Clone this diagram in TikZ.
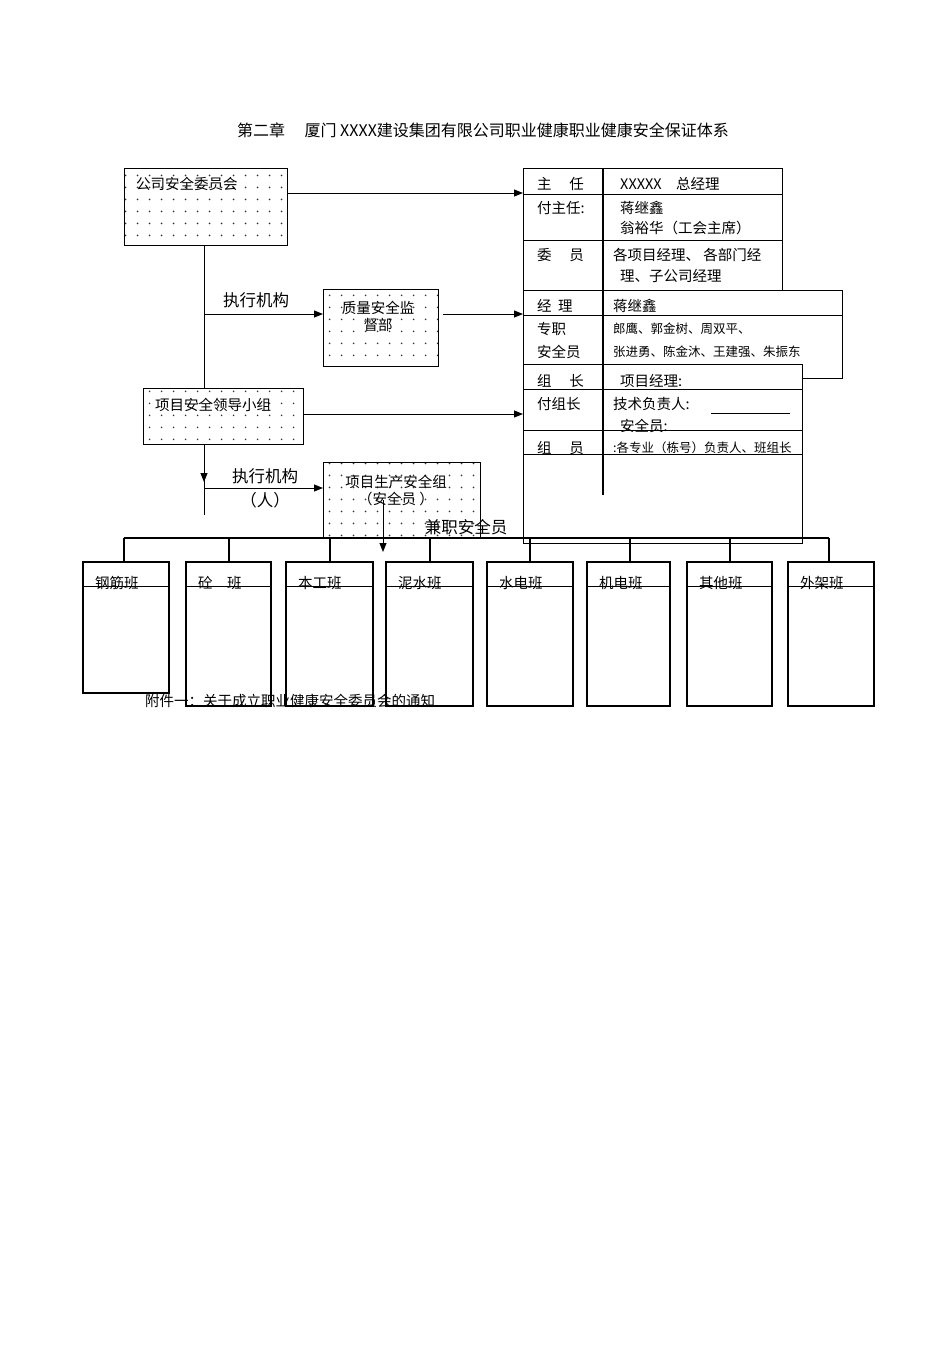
\documentclass[tikz,border=0pt]{standalone}
\usepackage{fontspec}
\setmainfont{Noto Sans CJK SC}
\usetikzlibrary{patterns.meta,arrows.meta}
\tikzdeclarepattern{name=sdots,type=uncolored,bounding box={(0,0) and (12pt,12pt)},tile size={(12pt,12pt)},code={\pgfpathcircle{\pgfpoint{6pt}{6pt}}{1pt}\pgfusepath{fill}}}
\begin{document}
\begin{tikzpicture}[x=1pt,y=-1pt,
 dotbox/.style={draw,line width=1pt,pattern={sdots},pattern color=black!80},
 t/.style={font=\fontsize{14.5}{17}\selectfont,inner sep=0pt},
 tb/.style={font=\fontsize{16.5}{19}\selectfont,inner sep=0pt},
 ts/.style={font=\fontsize{12.5}{14}\selectfont,inner sep=0pt},
 arr/.style={-{Triangle[length=9pt,width=7pt]},line width=1pt},
 ln/.style={line width=1pt},
 team/.style={draw,line width=1.1pt}]
\useasboundingbox (0,0) rectangle (950,1345);
\node[font=\fontsize{16}{18}\selectfont,inner sep=0pt] (title) at (483,130) {第二章\quad\ 厦门 XXXX建设集团有限公司职业健康职业健康安全保证体系};
% tables
\draw[ln] (523,168) rectangle (782,290);
\draw[ln] (523,194) -- (782,194) (523,240) -- (782,240);
\draw[line width=1.4pt] (603,168) -- (603,290);
\draw[ln,fill=white] (523,290) rectangle (842,378);
\draw[ln] (523,315) -- (842,315);
\draw[line width=1.4pt] (603,290) -- (603,378);
\draw[ln,fill=white] (523,364) rectangle (802,543);
\draw[ln] (523,389) -- (802,389) (523,430) -- (802,430) (523,454) -- (802,454);
\draw[line width=1.4pt] (603,364) -- (603,495);
\draw[ln] (711,413) -- (790,413);
\node[t,anchor=west] (r1a) at (537,184) {主\quad\ 任};
\node[t,anchor=west] (r1b) at (620,184) {XXXXX\quad 总经理};
\node[t,anchor=west] (r2a) at (537,208) {付主任:};
\node[t,anchor=west] (r2b) at (620,208) {蒋继鑫};
\node[t,anchor=west] (r2c) at (620,228) {翁裕华（工会主席）};
\node[t,anchor=west] (r3a) at (537,255) {委\quad\ 员};
\node[t,anchor=west] (r3b) at (613,255) {各项目经理、 各部门经};
\node[t,anchor=west] (r3c) at (620,276) {理、子公司经理};
\node[t,anchor=west] (s1a) at (537,306) {经\ \ 理};
\node[t,anchor=west] (s1b) at (613,306) {蒋继鑫};
\node[t,anchor=west] (s2a) at (537,329) {专职};
\node[ts,anchor=west] (s2b) at (613,329) {郎鹰、郭金树、周双平、};
\node[t,anchor=west] (s3a) at (537,352) {安全员};
\node[ts,anchor=west] (s3b) at (613,352) {张进勇、陈金沐、王建强、朱振东};
\node[t,anchor=west] (u1a) at (537,381) {组\quad\ 长};
\node[t,anchor=west] (u1b) at (620,381) {项目经理:};
\node[t,anchor=west] (u2a) at (537,404) {付组长};
\node[t,anchor=west] (u2b) at (613,404) {技术负责人:};
\node[t,anchor=west] (u3) at (620,426) {安全员:};
\node[t,anchor=west] (u4a) at (537,448) {组\quad\ 员};
\node[ts,anchor=west] (u4b) at (613,448) {:各专业（栋号）负责人、班组长};
% left boxes
\node[dotbox,minimum width=163,minimum height=77,anchor=north west] (b1) at (124,168) {};
\node[t,anchor=west] at (136,184) {公司安全委员会};
\node[dotbox,minimum width=115,minimum height=77,anchor=north west] (b2) at (323,289) {};
\node[t,align=center] at (378,316) {质量安全监\\督部};
\node[dotbox,minimum width=160,minimum height=56,anchor=north west] (b3) at (143,388) {};
\node[t,anchor=west] at (155,405) {项目安全领导小组};
\node[dotbox,minimum width=157,minimum height=76,anchor=north west] (b4) at (323,462) {};
\node[t,align=center] at (396,491) {项目生产安全组\\（安全员 ）};
\coordinate (c1) at (204,314);
\coordinate (c2) at (204,488);
\coordinate (c3) at (204,515);
\draw[ln] (204,245) -- (204,388);
\draw[ln] (204,444) -- (c3);
\draw[arr] (204,444) -- (204,482);
\draw[arr] (c1) -- (b2.west |- c1);
\node[tb] (l1) at (256,300) {执行机构};
\draw[arr] (c2) -- (b4.west |- c2);
\node[tb] (l2) at (265,476) {执行机构};
\node[tb] (l3) at (265,500) {（人）};
\draw[arr] (287,193) -- (523,193);
\draw[arr] (443,314) -- (523,314);
\draw[arr] (303,414) -- (523,414);
\node[tb] (jz) at (466,527) {兼职安全员};
% bus
\draw[line width=1.8pt] (124,538) -- (829,538);
\draw[line width=2.6pt] (323,538) -- (480,538);
\draw[arr] (383,500) -- (383,552);
\foreach \x/\lab/\b/\w in {83/钢筋班/693/86,186/砼\quad 班/706/85,286/本工班/706/87,386/泥水班/706/87,487/水电班/706/86,587/机电班/706/83,687/其他班/706/85,788/外架班/706/86}{
  \draw[team] (\x,562) rectangle ++(\w,\b-562);
  \draw[ln] (\x,586) -- ++(\w,0);
  \node[t,anchor=south west] at (\x+12,590) {\lab};
}
\foreach \x in {124,229,330,430,530,630,730,829}{\draw[line width=1.3pt] (\x,538) -- (\x,562);}
\node[t,anchor=west] (foot) at (145,701) {附件一：关于成立职业健康安全委员会的通知};
\end{tikzpicture}
\end{document}
